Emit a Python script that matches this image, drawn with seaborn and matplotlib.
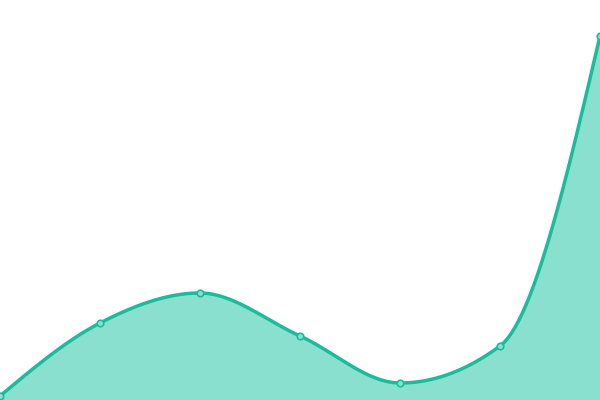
import numpy as np
import pandas as pd
import seaborn as sns
from matplotlib import pyplot as plt

# data (bottom of chart = 0)
steps = [0, 1, 2, 3, 4, 5, 6]
values = [4, 77, 107, 64, 17, 54, 364]

line_color = '#1abc9c'
fill_color = '#8ae0cf'


def monotone_curve(x, y, n=60):
    # monotone cubic (like d3 curveMonotoneX) for the smooth outline
    x = np.asarray(x, float)
    y = np.asarray(y, float)
    h = np.diff(x)
    s = np.diff(y) / h
    m = np.zeros_like(y)
    for i in range(1, len(y) - 1):
        if s[i - 1] * s[i] <= 0:
            m[i] = 0
        else:
            p = (s[i - 1] * h[i] + s[i] * h[i - 1]) / (h[i - 1] + h[i])
            m[i] = np.sign(s[i - 1]) * min(abs(s[i - 1]), abs(s[i]), 0.5 * abs(p)) * 2
    m[0] = (3 * s[0] - m[1]) / 2
    m[-1] = (3 * s[-1] - m[-2]) / 2
    xs, ys = [], []
    for i in range(len(x) - 1):
        t = np.linspace(0, 1, n)
        h00 = 2 * t**3 - 3 * t**2 + 1
        h10 = t**3 - 2 * t**2 + t
        h01 = -2 * t**3 + 3 * t**2
        h11 = t**3 - t**2
        xs.append(x[i] + t * h[i])
        ys.append(h00 * y[i] + h10 * h[i] * m[i] + h01 * y[i + 1] + h11 * h[i] * m[i + 1])
    return np.concatenate(xs), np.concatenate(ys)


cx, cy = monotone_curve(steps, values)
curve = pd.DataFrame({'x': cx, 'y': cy})
points = pd.DataFrame({'x': steps, 'y': values})

fig = plt.figure(figsize=(6, 4), dpi=100)
ax = fig.add_axes([0, 0, 1, 1])

ax.fill_between(curve.x, curve.y, 0, color=fill_color, lw=0)
sns.lineplot(data=curve, x='x', y='y', color=line_color, linewidth=2.5, ax=ax, sort=False)
sns.scatterplot(data=points, x='x', y='y', s=22, color=fill_color,
                edgecolor=line_color, linewidth=1.2, ax=ax, zorder=5, clip_on=False)

ax.set_xlim(0, 6)
ax.set_ylim(0, 400)
ax.axis('off')

plt.savefig('out.png', dpi=100)
